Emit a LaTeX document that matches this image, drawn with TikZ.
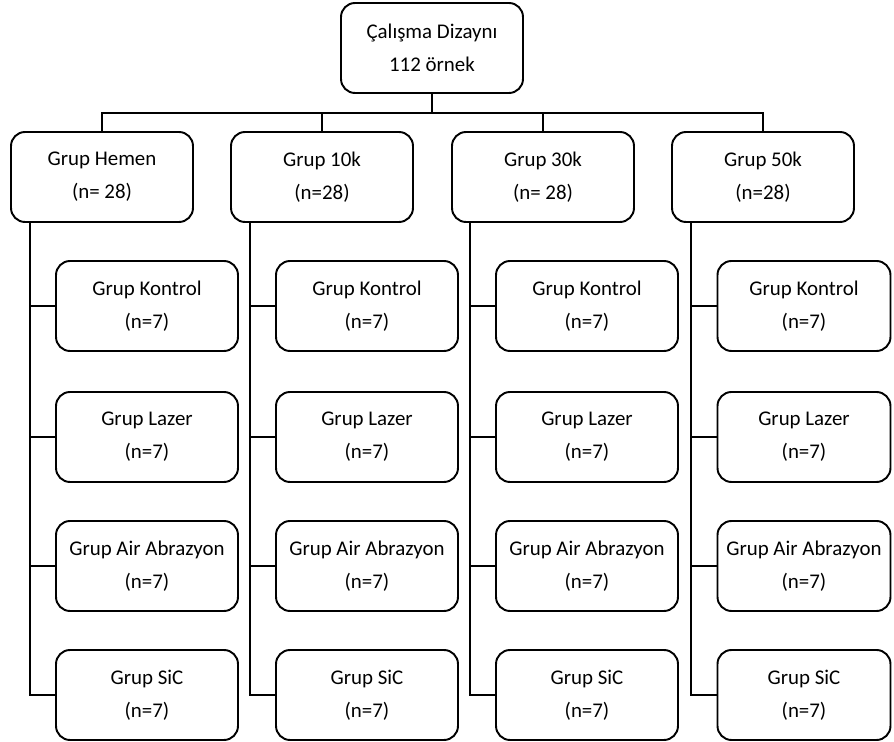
\documentclass[tikz,border=0pt]{standalone}
\usepackage{fontspec}
\setmainfont{Carlito}
\usepackage{tikz}
\usetikzlibrary{positioning}
\tikzstyle{line}=[-, line width=1.1pt]
\tikzstyle{box}=[rectangle, draw, line width=1.1pt, rounded corners=0.28cm, minimum width=3.64cm, minimum height=1.8cm, align=center, font=\fontsize{11.9}{18.7}\selectfont]

\begin{document}
\begin{tikzpicture}[x=0.02cm, y=-0.02cm]
            \useasboundingbox (0,0) rectangle (894,742);

            \node[box] (top) at (432,48) {Çalışma Dizaynı\\112 örnek};

            \node[box] (g1) at (102,177) {Grup Hemen\\(n= 28)};
            \node[box] (g2) at (322,177) {Grup 10k\\(n=28)};
            \node[box] (g3) at (543,177) {Grup 30k\\(n= 28)};
            \node[box] (g4) at (763,177) {Grup 50k\\(n=28)};

            % Grup Hemen
            \node[box] (k1) at (147,306) {Grup Kontrol\\(n=7)};
            \node[box] (l1) at (147,437) {Grup Lazer\\(n=7)};
            \node[box] (a1) at (147,566) {Grup Air Abrazyon\\(n=7)};
            \node[box] (s1) at (147,695) {Grup SiC\\(n=7)};

            % Grup 10k
            \node[box] (k2) at (367,306) {Grup Kontrol\\(n=7)};
            \node[box] (l2) at (367,437) {Grup Lazer\\(n=7)};
            \node[box] (a2) at (367,566) {Grup Air Abrazyon\\(n=7)};
            \node[box] (s2) at (367,695) {Grup SiC\\(n=7)};

            % Grup 30k
            \node[box] (k3) at (587,306) {Grup Kontrol\\(n=7)};
            \node[box] (l3) at (587,437) {Grup Lazer\\(n=7)};
            \node[box] (a3) at (587,566) {Grup Air Abrazyon\\(n=7)};
            \node[box] (s3) at (587,695) {Grup SiC\\(n=7)};

            % Grup 50k
            \node[box, minimum width=3.46cm] (k4) at (804,306) {Grup Kontrol\\(n=7)};
            \node[box, minimum width=3.46cm] (l4) at (804,437) {Grup Lazer\\(n=7)};
            \node[box, minimum width=3.46cm] (a4) at (804,566) {Grup Air Abrazyon\\(n=7)};
            \node[box, minimum width=3.46cm] (s4) at (804,695) {Grup SiC\\(n=7)};

            \coordinate (bus) at (432,113);
            \coordinate (t1) at (30,222);
            \coordinate (t2) at (250,222);
            \coordinate (t3) at (470,222);
            \coordinate (t4) at (691,222);

            \draw[line] (top) -- (bus);
            \draw[line] (g1.north) |- (bus) -| (g4.north);
            \draw[line] (g2.north) -- (g2.north |- bus);
            \draw[line] (g3.north) -- (g3.north |- bus);

            \draw[line] (t1) |- (s1.west);
            \draw[line] (k1.west) -- (k1.west -| t1);
            \draw[line] (l1.west) -- (l1.west -| t1);
            \draw[line] (a1.west) -- (a1.west -| t1);

            \draw[line] (t2) |- (s2.west);
            \draw[line] (k2.west) -- (k2.west -| t2);
            \draw[line] (l2.west) -- (l2.west -| t2);
            \draw[line] (a2.west) -- (a2.west -| t2);

            \draw[line] (t3) |- (s3.west);
            \draw[line] (k3.west) -- (k3.west -| t3);
            \draw[line] (l3.west) -- (l3.west -| t3);
            \draw[line] (a3.west) -- (a3.west -| t3);

            \draw[line] (t4) |- (s4.west);
            \draw[line] (k4.west) -- (k4.west -| t4);
            \draw[line] (l4.west) -- (l4.west -| t4);
            \draw[line] (a4.west) -- (a4.west -| t4);
        \end{tikzpicture}
\end{document}
